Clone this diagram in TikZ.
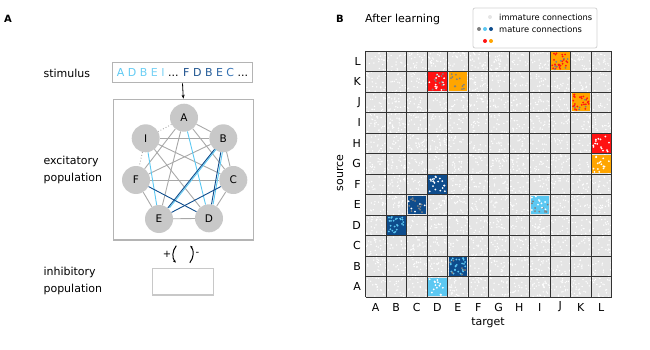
\documentclass[tikz,border=0pt]{standalone}
\usepackage{fontspec}
\setmainfont{DejaVu Sans}
\usetikzlibrary{arrows.meta}
\definecolor{lblue}{HTML}{5CC8F2}
\definecolor{dblue}{HTML}{0E4C8C}
\definecolor{cellgray}{HTML}{E4E4E4}
\definecolor{edgegray}{HTML}{A8A8A8}
\definecolor{nodegray}{HTML}{C8C8C8}
\definecolor{boxgray}{HTML}{B4B4B4}
\definecolor{mred}{HTML}{FF1212}
\definecolor{morange}{HTML}{FFA500}
\definecolor{mgray}{HTML}{808080}
\definecolor{gridc}{HTML}{333333}
\tikzset{
  neuron/.style={circle, fill=nodegray, minimum size=28pt, inner sep=0pt, font=\fontsize{10.5}{12}\selectfont},
  link/.style={edgegray, line width=0.9pt},
  panelbox/.style={draw=boxgray, line width=1.2pt, inner sep=0pt},
  lbl/.style={font=\fontsize{11}{17}\selectfont, align=left, anchor=west},
  axlbl/.style={font=\fontsize{11}{13}\selectfont, inner sep=0pt},
  gridline/.style={gridc, line width=0.9pt},
  legtext/.style={font=\fontsize{8.3}{10}\selectfont, anchor=west, inner sep=0pt}
}
\newcommand\cellblock[3]{\fill[#3] ({365.5+20.5*#1+1},{297-20.5*(#2+1)+1}) rectangle +(18.5,18.5);}
\newcommand\celldots[4]{\foreach \k in {1,...,#4}{\fill[#3] ({365.5+20.5*#1+2+rnd*16.5},{297-20.5*(#2+1)+2+rnd*16.5}) circle (1pt);}}
\begin{document}
\begin{tikzpicture}[x=1pt,y=-1pt]
\useasboundingbox (0,0) rectangle (650,350);
\pgfmathsetseed{7}

% panel A
\node[font=\bfseries\fontsize{10}{12}\selectfont] (labA) at (8,19) {A};
\node[lbl] (stimlbl) at (40,73) {stimulus};
\node[lbl] (exclbl) at (40,170) {excitatory\\population};
\node[lbl] (inhlbl) at (40,281) {inhibitory\\population};

\node[panelbox, minimum width=140pt, minimum height=20pt, font=\fontsize{11}{13}\selectfont] (stim) at (182.5,72.7)
  {\color{lblue}A \color{lblue!95}D \color{lblue!90}B \color{lblue!85}E \color{lblue!80}I \color{black}... \color[HTML]{1B4F8C}F \color[HTML]{1F5590}D \color[HTML]{245C98}B \color[HTML]{2B65A3}E \color[HTML]{3573B5}C \color{black}...};
\node[panelbox, minimum width=140pt, minimum height=140.7pt] (exc) at (183.3,169.7) {};
\node[panelbox, draw=nodegray, minimum width=61pt, minimum height=26.7pt] (inh) at (182.8,281.7) {};
\draw[-{Stealth[length=4pt,width=3pt]}, line width=0.8pt] (stim.south) -- (exc.north);

\node[neuron] (A) at (184,117.7) {A};
\node[neuron] (B) at (223.3,138.3) {B};
\node[neuron] (C) at (233.3,180) {C};
\node[neuron] (D) at (209,218.3) {D};
\node[neuron] (E) at (159,219) {E};
\node[neuron] (F) at (136,180) {F};
\node[neuron] (I) at (145.7,138.3) {I};

\foreach \a/\b in {A/B,A/C,A/E,A/F,B/C,B/F,B/I,C/D,C/F,C/I,D/E,D/I,E/F}
  \draw[link] (\a) -- (\b);
\draw[link, dotted] (A) -- (I);
\draw[link, dotted] (I) -- (F);
\draw[lblue, line width=0.9pt] (A) -- (D);
\draw[lblue, line width=0.9pt] (I) -- (E);
\draw[lblue, line width=0.9pt, transform canvas={xshift=1.6pt}] (B) -- (E);
\draw[lblue, line width=0.9pt, transform canvas={xshift=1.6pt}] (B) -- (D);
\draw[dblue, line width=0.9pt] (B) -- (E);
\draw[dblue, line width=0.9pt] (B) -- (D);
\draw[dblue, line width=0.9pt] (F) -- (D);
\draw[dblue, line width=0.9pt] (C) -- (E);

\node[font=\fontsize{10}{12}\selectfont, inner sep=0pt] (plus) at (167,254) {+};
\node[font=\fontsize{10}{12}\selectfont, inner sep=0pt] (minus) at (197.5,254) {-};
\draw[-{Stealth[length=3pt,width=2.5pt]}, line width=1pt] ([shift={(-7,5)}]exc.south) .. controls +(-4,5) and +(-4,-5) .. ([shift={(-7,-5)}]inh.north);
\draw[-{Stealth[length=3pt,width=2.5pt]}, line width=1pt] ([shift={(7,-5)}]inh.north) .. controls +(4,-5) and +(4,5) .. ([shift={(7,5)}]exc.south);

% panel B
\node[font=\bfseries\fontsize{10}{12}\selectfont] (labB) at (340,19) {B};
\node[font=\fontsize{11}{13}\selectfont, anchor=west, inner sep=0pt] (title) at (365,19) {After learning};

\node[draw=gray!35, line width=0.8pt, rounded corners=2pt, minimum width=124pt, minimum height=40pt] (legend) at (535,28) {};
\fill[gray!20] (490,17) circle (2pt);
\fill[mgray] (479,29) circle (2pt);
\fill[lblue] (485,29) circle (2pt);
\fill[dblue] (491,29) circle (2pt);
\fill[mred] (485,41) circle (2pt);
\fill[morange] (491,41) circle (2pt);
\node[legtext] (legimm) at (499,17) {immature connections};
\node[legtext] (legmat) at (499,29) {mature connections};

\fill[cellgray] (365.5,51) rectangle (611.5,297);
\foreach \k in {1,...,3600}
  \fill[white] ({365.5+rnd*246},{51+rnd*246}) circle (0.75pt);

\cellblock{3}{0}{lblue}   \celldots{3}{0}{white}{14}
\cellblock{4}{1}{dblue}   \celldots{4}{1}{lblue}{25} \celldots{4}{1}{mgray}{8}
\cellblock{1}{3}{dblue}   \celldots{1}{3}{lblue}{25}
\cellblock{2}{4}{dblue}   \celldots{2}{4}{mgray}{12} \celldots{2}{4}{white}{5}
\cellblock{8}{4}{lblue}   \celldots{8}{4}{mgray}{10} \celldots{8}{4}{white}{10}
\cellblock{3}{5}{dblue}   \celldots{3}{5}{white}{20}
\cellblock{11}{6}{morange} \celldots{11}{6}{white}{15}
\cellblock{11}{7}{mred}   \celldots{11}{7}{white}{15}
\cellblock{10}{9}{morange} \celldots{10}{9}{mred}{25} \celldots{10}{9}{mgray}{5}
\cellblock{3}{10}{mred}   \celldots{3}{10}{white}{12} \celldots{3}{10}{mgray}{10}
\cellblock{4}{10}{morange} \celldots{4}{10}{mgray}{12}
\cellblock{9}{11}{morange} \celldots{9}{11}{mred}{25} \celldots{9}{11}{mgray}{8}

\foreach \i in {0,...,12} {
  \draw[gridline] ({365.5+20.5*\i},51) -- ({365.5+20.5*\i},297);
  \draw[gridline] (365.5,{51+20.5*\i}) -- (611.5,{51+20.5*\i});
}
\foreach \l [count=\i from 0] in {A,B,C,D,E,F,G,H,I,J,K,L} {
  \node[axlbl] (col\l) at ({365.5+20.5*(\i+0.5)},307) {\l};
  \node[axlbl, anchor=east] (row\l) at (361,{297-20.5*(\i+0.5)}) {\l};
}
\node[axlbl] (target) at (488,323) {target};
\node[axlbl, rotate=90] (source) at (340,173) {source};
\end{tikzpicture}
\end{document}
